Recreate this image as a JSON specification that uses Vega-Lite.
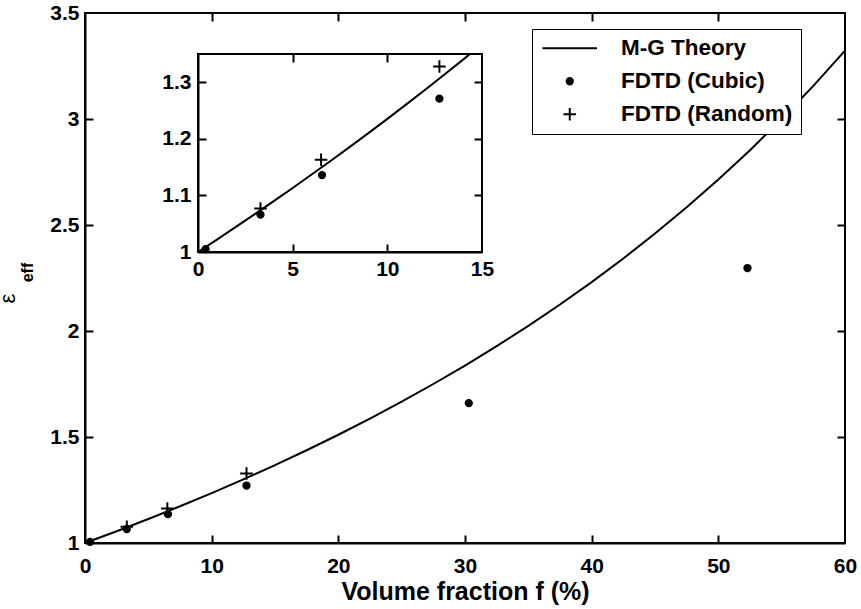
{
  "$schema": "https://vega.github.io/schema/vega-lite/v6.json",
  "width": 760,
  "height": 530,
  "autosize": {"type": "none"},
  "padding": {"left": 85, "top": 13, "right": 16, "bottom": 66},
  "background": "white",
  "config": {
    "view": {"stroke": "black", "strokeWidth": 2},
    "font": "Liberation Sans",
    "axis": {
      "labelFont": "Liberation Sans", "labelFontWeight": "bold", "labelFontSize": 21, "labelColor": "black",
      "labelFlush": false, "labelOverlap": false, "labelBound": false,
      "domainColor": "black", "domainWidth": 2,
      "grid": false, "titleFont": "Liberation Sans", "titleFontWeight": "bold", "titleColor": "black"
    }
  },
  "datasets": {
    "mg_main": [
      {"f": 0, "eps": 1.0}, {"f": 2.5, "eps": 1.0556}, {"f": 5, "eps": 1.1132}, {"f": 7.5, "eps": 1.1731},
      {"f": 10, "eps": 1.2353}, {"f": 12.5, "eps": 1.3}, {"f": 15, "eps": 1.3673}, {"f": 17.5, "eps": 1.4375},
      {"f": 20, "eps": 1.5106}, {"f": 22.5, "eps": 1.587}, {"f": 25, "eps": 1.6667}, {"f": 27.5, "eps": 1.75},
      {"f": 30, "eps": 1.8372}, {"f": 32.5, "eps": 1.9286}, {"f": 35, "eps": 2.0244}, {"f": 37.5, "eps": 2.125},
      {"f": 40, "eps": 2.2308}, {"f": 42.5, "eps": 2.3421}, {"f": 45, "eps": 2.4595}, {"f": 47.5, "eps": 2.5833},
      {"f": 50, "eps": 2.7143}, {"f": 52.5, "eps": 2.8529}, {"f": 55, "eps": 3.0}, {"f": 57.5, "eps": 3.1563},
      {"f": 60, "eps": 3.3226}
    ],
    "mg_inset": [
      {"f": 0, "eps": 1.0}, {"f": 1, "eps": 1.022}, {"f": 2, "eps": 1.0443}, {"f": 3, "eps": 1.0669},
      {"f": 4, "eps": 1.0899}, {"f": 5, "eps": 1.1132}, {"f": 6, "eps": 1.1369}, {"f": 7, "eps": 1.1609},
      {"f": 8, "eps": 1.1853}, {"f": 9, "eps": 1.2101}, {"f": 10, "eps": 1.2353}, {"f": 11, "eps": 1.2609},
      {"f": 12, "eps": 1.2869}, {"f": 13, "eps": 1.3133}, {"f": 14, "eps": 1.3401}, {"f": 14.35, "eps": 1.3496}
    ],
    "pts_main": [
      {"f": 0.4, "eps": 1.005, "series": "FDTD (Cubic)"},
      {"f": 3.3, "eps": 1.066, "series": "FDTD (Cubic)"},
      {"f": 6.55, "eps": 1.136, "series": "FDTD (Cubic)"},
      {"f": 12.75, "eps": 1.271, "series": "FDTD (Cubic)"},
      {"f": 30.3, "eps": 1.66, "series": "FDTD (Cubic)"},
      {"f": 52.3, "eps": 2.297, "series": "FDTD (Cubic)"},
      {"f": 3.3, "eps": 1.077, "series": "FDTD (Random)"},
      {"f": 6.5, "eps": 1.163, "series": "FDTD (Random)"},
      {"f": 12.75, "eps": 1.328, "series": "FDTD (Random)"}
    ],
    "inset_box": [{"x0": 0, "x1": 15, "y0": 1, "y1": 1.35}]
  },
  "resolve": {"scale": {"x": "independent", "y": "independent"}, "axis": {"x": "independent", "y": "independent"}},
  "layer": [
    {
      "layer": [
        {
          "data": {"name": "mg_main"},
          "mark": {"type": "line", "color": "black", "strokeWidth": 2},
          "encoding": {
            "x": {"field": "f", "type": "quantitative", "scale": {"domain": [0, 60], "nice": false, "zero": false},
              "axis": {"orient": "bottom", "values": [0, 10, 20, 30, 40, 50, 60], "ticks": false, "labelPadding": 12, "title": "Volume fraction f (%)", "titleFontSize": 25, "titleY": 48, "titleBaseline": "middle"}},
            "y": {"field": "eps", "type": "quantitative", "scale": {"domain": [1, 3.5], "nice": false, "zero": false},
              "axis": {"orient": "left", "values": [1, 1.5, 2, 2.5, 3, 3.5], "format": "~g", "ticks": false, "labelPadding": 6, "title": "ε", "titleFontWeight": "normal", "titleFontSize": 22, "titleAngle": 270, "titleX": -78, "titleY": 285, "titleAlign": "center", "titleBaseline": "middle"}}
          }
        },
        {
          "data": {"name": "pts_main"},
          "mark": {"type": "point", "filled": true, "color": "black", "stroke": "black", "strokeWidth": 2, "size": 110, "opacity": 1},
          "encoding": {
            "x": {"field": "f", "type": "quantitative", "scale": {"domain": [0, 60], "nice": false, "zero": false},
              "axis": {"orient": "bottom", "values": [0, 10, 20, 30, 40, 50, 60], "ticks": false, "labelPadding": 12, "title": "Volume fraction f (%)", "titleFontSize": 25, "titleY": 48, "titleBaseline": "middle"}},
            "y": {"field": "eps", "type": "quantitative", "scale": {"domain": [1, 3.5], "nice": false, "zero": false},
              "axis": {"orient": "left", "values": [1, 1.5, 2, 2.5, 3, 3.5], "format": "~g", "ticks": false, "labelPadding": 6, "title": "ε", "titleFontWeight": "normal", "titleFontSize": 22, "titleAngle": 270, "titleX": -78, "titleY": 285, "titleAlign": "center", "titleBaseline": "middle"}},
            "shape": {"field": "series", "type": "nominal",
              "scale": {"domain": ["M-G Theory", "FDTD (Cubic)", "FDTD (Random)"], "range": ["M-5.2,0H5.2", "M-0.6,0A0.6,0.6,0,1,1,0.6,0A0.6,0.6,0,1,1,-0.6,0Z", "M-1.2,0H1.2M0,-1.2V1.2"]},
              "legend": {"orient": "none", "legendX": 447, "legendY": 16, "title": null, "direction": "vertical",
                "strokeColor": "black", "fillColor": "white", "padding": 8,
                "labelFont": "Liberation Sans", "labelFontWeight": "bold", "labelFontSize": 22.5, "labelColor": "black", "labelLimit": 400,
                "symbolSize": 110, "symbolOffset": 18.5, "labelOffset": 40, "rowPadding": 10, "symbolStrokeWidth": 2,
                "encode": {
                  "legend": {"update": {"strokeWidth": {"value": 2}}},
                  "symbols": {"update": {"fill": {"value": "black"}, "stroke": {"value": "black"}, "strokeWidth": {"value": 2}, "opacity": {"value": 1}}}}}}
          }
        }
      ]
    },
    {
      "data": {"name": "inset_box"},
      "mark": {"type": "point", "opacity": 0},
      "encoding": {
        "x": {"field": "x0", "type": "quantitative", "scale": {"domain": [0, 60], "nice": false, "zero": false},
          "axis": {"orient": "top", "values": [10, 20, 30, 40, 50], "ticks": false, "grid": true, "gridColor": "black", "gridWidth": 2, "gridOpacity": 1, "gridDash": [8, 3000], "labels": false, "domain": false, "title": null}},
        "y": {"field": "y0", "type": "quantitative", "scale": {"domain": [1, 3.5], "nice": false, "zero": false},
          "axis": {"orient": "right", "values": [1.5, 2, 2.5, 3], "ticks": false, "grid": true, "gridColor": "black", "gridWidth": 2, "gridOpacity": 1, "gridDash": [8, 3000], "labels": false, "domain": false, "title": "eff", "titleFontSize": 16, "titleAngle": 270, "titleX": -818, "titleY": 259, "titleAlign": "center", "titleBaseline": "middle"}}
      }
    },
    {
      "data": {"name": "inset_box"},
      "mark": {"type": "point", "opacity": 0},
      "encoding": {
        "x": {"field": "x0", "type": "quantitative", "scale": {"domain": [0, 60], "nice": false, "zero": false},
          "axis": {"orient": "bottom", "values": [10, 20, 30, 40, 50], "ticks": false, "grid": true, "gridColor": "black", "gridWidth": 2, "gridOpacity": 1, "gridDash": [8, 3000], "labels": false, "domain": false, "title": null}},
        "y": {"field": "y0", "type": "quantitative", "scale": {"domain": [1, 3.5], "nice": false, "zero": false},
          "axis": {"orient": "left", "values": [1.5, 2, 2.5, 3], "ticks": false, "grid": true, "gridColor": "black", "gridWidth": 2, "gridOpacity": 1, "gridDash": [8, 3000], "labels": false, "domain": false, "title": null}}
      }
    },
    {
      "layer": [
        {
          "data": {"name": "inset_box"},
          "mark": {"type": "rect", "filled": false, "stroke": "black", "strokeWidth": 2},
          "encoding": {
            "x": {"field": "x0", "type": "quantitative", "scale": {"domain": [0, 15], "range": [113, 397], "nice": false, "zero": false},
              "axis": {"orient": "bottom", "offset": -291, "values": [0, 5, 10, 15], "ticks": false, "title": null, "labelPadding": 6}},
            "x2": {"field": "x1"},
            "y": {"field": "y0", "type": "quantitative", "scale": {"domain": [1, 1.35], "range": [239, 41], "nice": false, "zero": false},
              "axis": {"orient": "left", "offset": -113, "values": [1, 1.1, 1.2, 1.3], "format": "~g", "ticks": false, "title": null, "labelPadding": 7}},
            "y2": {"field": "y1"}
          }
        },
        {
          "data": {"name": "mg_inset"},
          "mark": {"type": "line", "color": "black", "strokeWidth": 2},
          "encoding": {
            "x": {"field": "f", "type": "quantitative", "scale": {"domain": [0, 15], "range": [113, 397], "nice": false, "zero": false},
              "axis": {"orient": "bottom", "offset": -291, "values": [0, 5, 10, 15], "ticks": false, "title": null, "labelPadding": 6}},
            "y": {"field": "eps", "type": "quantitative", "scale": {"domain": [1, 1.35], "range": [239, 41], "nice": false, "zero": false},
              "axis": {"orient": "left", "offset": -113, "values": [1, 1.1, 1.2, 1.3], "format": "~g", "ticks": false, "title": null, "labelPadding": 7}}
          }
        },
        {
          "data": {"name": "pts_main"},
          "transform": [{"filter": "datum.f <= 15"}],
          "mark": {"type": "point", "filled": true, "color": "black", "stroke": "black", "strokeWidth": 2, "size": 110, "opacity": 1},
          "encoding": {
            "x": {"field": "f", "type": "quantitative", "scale": {"domain": [0, 15], "range": [113, 397], "nice": false, "zero": false},
              "axis": {"orient": "bottom", "offset": -291, "values": [0, 5, 10, 15], "ticks": false, "title": null, "labelPadding": 6}},
            "y": {"field": "eps", "type": "quantitative", "scale": {"domain": [1, 1.35], "range": [239, 41], "nice": false, "zero": false},
              "axis": {"orient": "left", "offset": -113, "values": [1, 1.1, 1.2, 1.3], "format": "~g", "ticks": false, "title": null, "labelPadding": 7}},
            "shape": {"field": "series", "type": "nominal",
              "scale": {"domain": ["M-G Theory", "FDTD (Cubic)", "FDTD (Random)"], "range": ["M-5.2,0H5.2", "M-0.6,0A0.6,0.6,0,1,1,0.6,0A0.6,0.6,0,1,1,-0.6,0Z", "M-1.2,0H1.2M0,-1.2V1.2"]},
              "legend": {"orient": "none", "legendX": 447, "legendY": 16, "title": null, "direction": "vertical",
                "strokeColor": "black", "fillColor": "white", "padding": 8,
                "labelFont": "Liberation Sans", "labelFontWeight": "bold", "labelFontSize": 22.5, "labelColor": "black", "labelLimit": 400,
                "symbolSize": 110, "symbolOffset": 18.5, "labelOffset": 40, "rowPadding": 10, "symbolStrokeWidth": 2,
                "encode": {
                  "legend": {"update": {"strokeWidth": {"value": 2}}},
                  "symbols": {"update": {"fill": {"value": "black"}, "stroke": {"value": "black"}, "strokeWidth": {"value": 2}, "opacity": {"value": 1}}}}}}
          }
        }
      ]
    },
    {
      "data": {"name": "inset_box"},
      "mark": {"type": "point", "opacity": 0},
      "encoding": {
        "x": {"field": "x0", "type": "quantitative", "scale": {"domain": [0, 15], "range": [113, 397], "nice": false, "zero": false},
          "axis": {"orient": "top", "offset": -49, "values": [5, 10], "ticks": true, "tickSize": 8, "tickWidth": 2, "tickColor": "black", "tickOpacity": 1, "labels": false, "domain": false, "title": null}},
        "y": {"field": "y0", "type": "quantitative", "scale": {"domain": [1, 1.35], "range": [239, 41], "nice": false, "zero": false},
          "axis": {"orient": "right", "offset": -371, "values": [1.1, 1.2, 1.3], "ticks": true, "tickSize": 8, "tickWidth": 2, "tickColor": "black", "tickOpacity": 1, "labels": false, "domain": false, "title": null}}
      }
    },
    {
      "data": {"name": "inset_box"},
      "mark": {"type": "point", "opacity": 0},
      "encoding": {
        "x": {"field": "x0", "type": "quantitative", "scale": {"domain": [0, 15], "range": [113, 397], "nice": false, "zero": false},
          "axis": {"orient": "bottom", "offset": -299, "values": [5, 10], "ticks": true, "tickSize": 8, "tickWidth": 2, "tickColor": "black", "tickOpacity": 1, "labels": false, "domain": false, "title": null}},
        "y": {"field": "y0", "type": "quantitative", "scale": {"domain": [1, 1.35], "range": [239, 41], "nice": false, "zero": false},
          "axis": {"orient": "left", "offset": -121, "values": [1.1, 1.2, 1.3], "ticks": true, "tickSize": 8, "tickWidth": 2, "tickColor": "black", "tickOpacity": 1, "labels": false, "domain": false, "title": null}}
      }
    }
  ]
}
